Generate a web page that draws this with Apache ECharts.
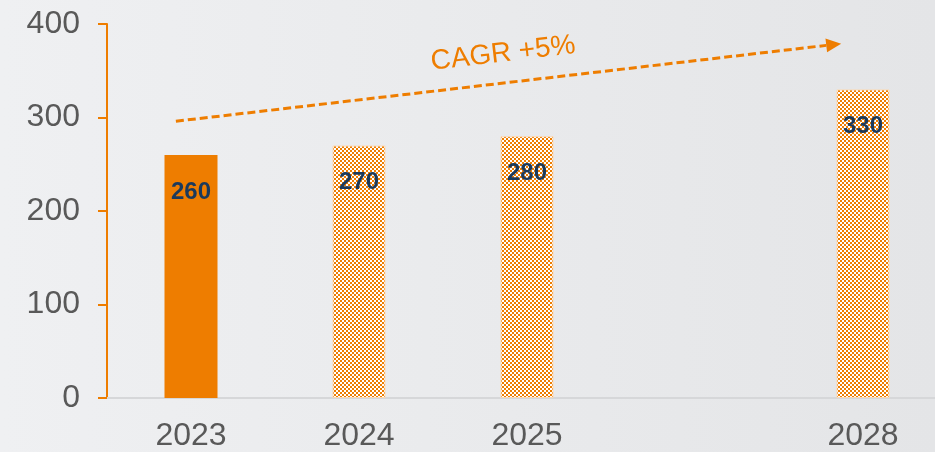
<!DOCTYPE html>
<html>
<head>
<meta charset="utf-8">
<script src="https://cdn.jsdelivr.net/npm/echarts@6/dist/echarts.min.js"></script>
<style>
html, body { margin: 0; padding: 0; }
#main {
    width: 935px;
    height: 452px;
    background: linear-gradient(to right, #EFF0F2, #E4E5E7);
}
</style>
</head>
<body>
<div id="main"></div>
<script>
// data
const categories = ['2023', '2024', '2025', '', '2028']
const values = [260, 270, 280, '-', 330]
const actualYears = ['2023']
const yTicks = [0, 100, 200, 300, 400]
const cagrLabel = 'CAGR +5%'
// trend arrow, as [category index, value]
const trendStart = [-0.09, 296]
const trendEnd = [3.87, 379]

const ORANGE = '#EE7D00'
const FONT = 'Arial, "Liberation Sans", sans-serif'

// checker pattern for forecast bars (2px cells)
function makeChecker () {
    const c = document.createElement('canvas')
    c.width = 4
    c.height = 4
    const ctx = c.getContext('2d')
    ctx.imageSmoothingEnabled = false
    ctx.fillStyle = '#FFFFFF'
    ctx.fillRect(0, 0, 4, 4)
    ctx.fillStyle = ORANGE
    ctx.fillRect(0, 0, 2, 2)
    ctx.fillRect(2, 2, 2, 2)
    return c
}
const checker = makeChecker()

const myChart = echarts.init(document.getElementById('main'), null, { renderer: 'canvas' })

myChart.setOption({
    animation: false,
    grid: {
        left: 107,
        right: -12,
        top: 24,
        bottom: 54,
        containLabel: false,
        outerBoundsMode: 'none'
    },
    xAxis: {
        type: 'category',
        data: categories,
        axisLine: { lineStyle: { color: '#D6D7D9', width: 2 } },
        axisTick: { show: false },
        axisLabel: { color: '#595959', fontSize: 32, fontFamily: FONT, margin: 22 }
    },
    yAxis: {
        type: 'value',
        min: yTicks[0],
        max: yTicks[yTicks.length - 1],
        interval: yTicks[1] - yTicks[0],
        axisLine: { show: true, lineStyle: { color: ORANGE, width: 2 } },
        axisTick: { show: true, length: 9, lineStyle: { color: ORANGE, width: 2 } },
        splitLine: { show: false },
        axisLabel: { color: '#595959', fontSize: 32, fontFamily: FONT, margin: 27 }
    },
    series: [
        {
            type: 'bar',
            barWidth: 53,
            data: values.map((v, i) => {
                const actual = actualYears.indexOf(categories[i]) >= 0
                return {
                    value: v,
                    itemStyle: actual
                        ? { color: ORANGE }
                        : { color: { image: checker, repeat: 'repeat' }, borderColor: '#FAD9B5', borderWidth: 1 }
                }
            }),
            label: {
                show: true,
                position: 'insideTop',
                distance: 25,
                color: '#1B3A5C',
                fontWeight: 'bold',
                fontSize: 24,
                fontFamily: FONT
            }
        }
    ]
})

// trend arrow + CAGR text
function toPx (pt) {
    const p0 = myChart.convertToPixel({ gridIndex: 0 }, [0, pt[1]])
    const p1 = myChart.convertToPixel({ gridIndex: 0 }, [1, pt[1]])
    return [p0[0] + pt[0] * (p1[0] - p0[0]), p0[1]]
}
const a = toPx(trendStart)
const b = toPx(trendEnd)
const dx = b[0] - a[0]
const dy = b[1] - a[1]
const len = Math.sqrt(dx * dx + dy * dy)
const ux = dx / len
const uy = dy / len
const headLen = 15
const headHalf = 7
const base = [b[0] - ux * headLen, b[1] - uy * headLen]
const mid = [(a[0] + b[0]) / 2, (a[1] + b[1]) / 2]

myChart.setOption({
    graphic: [
        {
            type: 'line',
            shape: { x1: a[0], y1: a[1], x2: base[0], y2: base[1] },
            style: { stroke: ORANGE, lineWidth: 3, lineDash: [8, 4] }
        },
        {
            type: 'polygon',
            shape: {
                points: [
                    b,
                    [base[0] - uy * headHalf, base[1] + ux * headHalf],
                    [base[0] + uy * headHalf, base[1] - ux * headHalf]
                ]
            },
            style: { fill: ORANGE }
        },
        {
            type: 'text',
            x: mid[0] - 2 + uy * 29,
            y: mid[1] - ux * 29,
            rotation: Math.atan2(-dy, dx),
            style: {
                text: cagrLabel,
                fill: ORANGE,
                font: '28px ' + FONT,
                align: 'center',
                verticalAlign: 'middle'
            }
        }
    ]
})
</script>
</body>
</html>
